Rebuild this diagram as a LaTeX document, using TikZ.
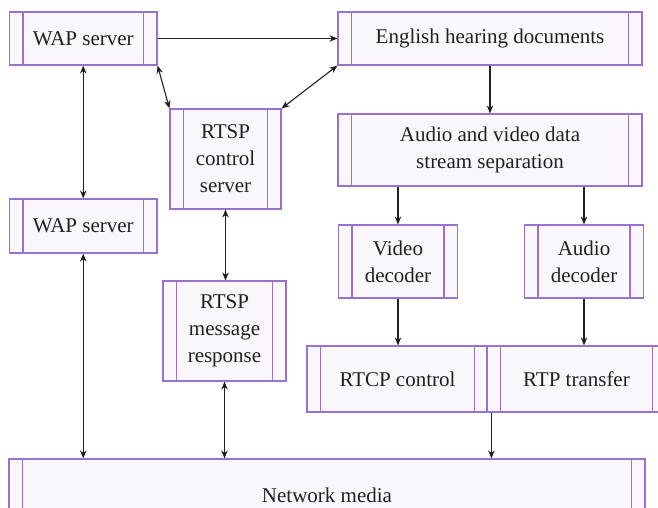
\documentclass[tikz,border=0pt]{standalone}
\usepackage{fontspec}
\setmainfont{Liberation Serif}
\usetikzlibrary{arrows.meta}
\definecolor{pborder}{RGB}{150,115,210}
\definecolor{pfill}{RGB}{249,247,252}
\definecolor{ink}{RGB}{35,31,32}
\tikzset{
  proc/.style={draw=pborder, fill=pfill, line width=1.2pt, inner sep=0pt,
    align=center, text=ink, font=\fontsize{21}{27}\selectfont,
    path picture={
      \draw[pborder, line width=1.2pt]
        ([xshift=13.5pt]path picture bounding box.north west) --
        ([xshift=13.5pt]path picture bounding box.south west)
        ([xshift=-13.5pt]path picture bounding box.north east) --
        ([xshift=-13.5pt]path picture bounding box.south east);}},
  box/.style args={#1x#2}{proc, minimum width=#1pt, minimum height=#2pt},
  link/.style={ink, line width=1.1pt, -{Stealth[length=8pt,width=6.5pt]}},
  bilink/.style={ink, line width=1.1pt, {Stealth[length=8pt,width=6.5pt]}-{Stealth[length=8pt,width=6.5pt]}}
}
\begin{document}
\begin{tikzpicture}[x=1pt,y=-1pt]
\path[use as bounding box, clip] (0,0) rectangle (658,508);

% process boxes
\node[box=147.5x53]  (wap1)  at (83.25,38.5) {WAP server};
\node[box=304x53]    (eng)   at (490,38.5)   {English hearing documents};
\node[box=304x72]    (sep)   at (490,150)    {Audio and video data\\stream separation};
\node[box=111x100]   (rtspc) at (225.5,159)  {RTSP\\control\\server};
\node[box=147.5x54]  (wap2)  at (83.25,226)  {WAP server};
\node[box=119x73]    (vdec)  at (398,261.5)  {Video\\decoder};
\node[box=119x73]    (adec)  at (584,261.5)  {Audio\\decoder};
\node[box=123x100]   (rtspm) at (224.5,331)  {RTSP\\message\\response};
\node[box=181x66]    (rtcp)  at (397.5,379)  {RTCP control};
\node[box=179x66]    (rtp)   at (576.5,379)  {RTP transfer};
\node[box=636x72]    (net)   at (327,495)    {Network media};

\coordinate (join) at ([xshift=5pt]rtp.south west);

% connectors
\draw[link] (wap1.east) -- (eng.west);
\draw[link] (eng.south) -- (sep.north);
\draw[link] (sep.south -| vdec.north) -- (vdec.north);
\draw[link] (sep.south -| adec.north) -- (adec.north);
\draw[link] (vdec.south) -- (vdec.south |- rtcp.north);
\draw[link] (adec.south) -- (adec.south |- rtp.north);
\draw[link] (join) -- (join |- net.north);

\draw[bilink] (wap1.south) -- (wap2.north);
\draw[bilink] (wap2.south) -- (wap2.south |- net.north);
\draw[bilink] (wap1.south east) -- (rtspc.north west);
\draw[bilink] (eng.south west) -- (rtspc.north east);
\draw[bilink] (rtspc.south) -- (rtspc.south |- rtspm.north);
\draw[bilink] (rtspm.south) -- (rtspm.south |- net.north);
\end{tikzpicture}
\end{document}
